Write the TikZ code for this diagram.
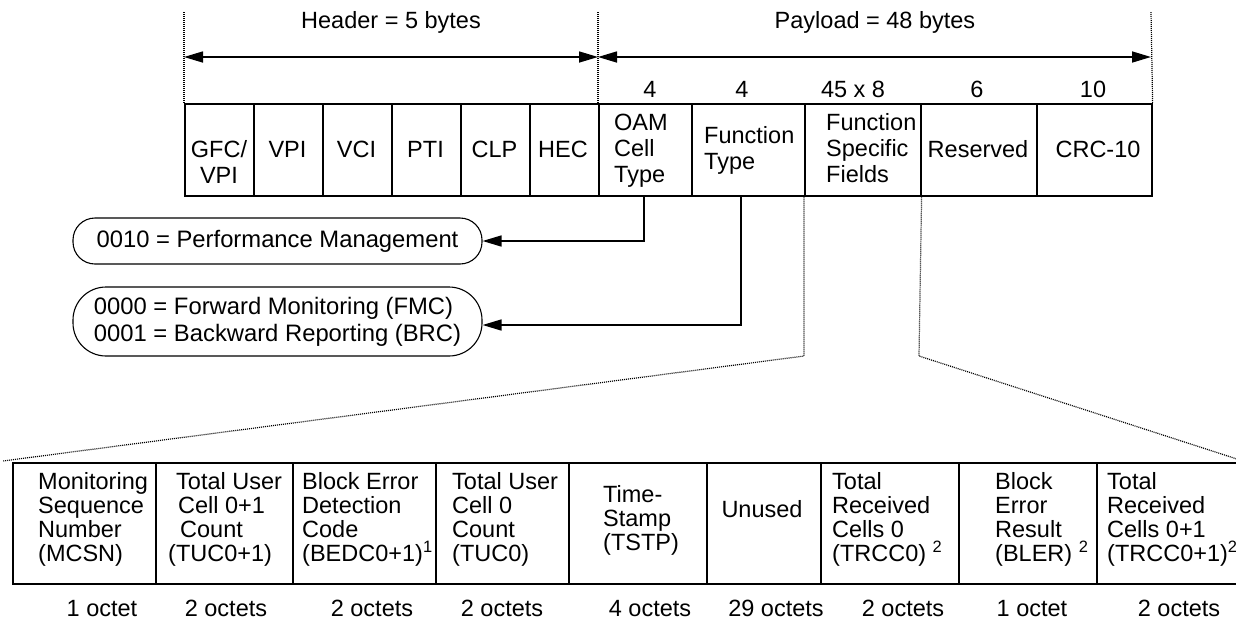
\documentclass[tikz,border=0pt]{standalone}
\usepackage{fontspec}
\setmainfont{Liberation Sans}
\usetikzlibrary{arrows.meta}
\newcommand\mlL[1]{\begin{tabular}[t]{@{}l@{}}#1\end{tabular}}
\newcommand\mlC[1]{\begin{tabular}[t]{@{}c@{}}#1\end{tabular}}
\newcommand\supmark[1]{\smash{\textsuperscript{#1}}}
\begin{document}
\begin{tikzpicture}[x=1pt,y=-1pt,
  box/.style={draw, line width=1.6pt, inner sep=0pt, anchor=north west},
  txt/.style={inner sep=0pt, font=\fontsize{23.5}{26}\selectfont},
  btxt/.style={inner sep=0pt, font=\fontsize{23.5}{24.3}\selectfont, anchor=base west},
  dots/.style={line width=1.2pt, dash pattern=on 1pt off 1pt},
  arr/.style={line width=1.6pt, -{Triangle[length=19pt,width=11pt]}},
  darr/.style={line width=1.6pt, {Triangle[length=19pt,width=11pt]}-{Triangle[length=19pt,width=11pt]}},
  oval/.style={draw, line width=1.1pt, inner sep=0pt, font=\fontsize{23.8}{27}\selectfont, align=left, minimum width=409pt}
]
\useasboundingbox (0,0) rectangle (1236,619);

% ---- top cell fields
\node[box, minimum width=69pt, minimum height=92pt] (gfc) at (184,103) {};
\node[box, minimum width=69pt, minimum height=92pt] (vpi) at (253,103) {};
\node[box, minimum width=69pt, minimum height=92pt] (vci) at (322,103) {};
\node[box, minimum width=69pt, minimum height=92pt] (pti) at (391,103) {};
\node[box, minimum width=69pt, minimum height=92pt] (clp) at (460,103) {};
\node[box, minimum width=69pt, minimum height=92pt] (hec) at (529,103) {};
\node[box, minimum width=93pt, minimum height=92pt] (oam) at (598,103) {};
\node[box, minimum width=113pt, minimum height=92pt] (ft) at (691,103) {};
\node[box, minimum width=116pt, minimum height=92pt] (fsf) at (804,103) {};
\node[box, minimum width=116pt, minimum height=92pt] (res) at (920,103) {};
\node[box, minimum width=115pt, minimum height=92pt] (crc) at (1036,103) {};

\node[txt, anchor=base] (tgfc) at (219,157) {\mlC{GFC/\\VPI}};
\node[txt, anchor=base] (tvpi) at (287.5,157) {VPI};
\node[txt, anchor=base] (tvci) at (356.5,157) {VCI};
\node[txt, anchor=base] (tpti) at (425.5,157) {PTI};
\node[txt, anchor=base] (tclp) at (494.5,157) {CLP};
\node[txt, anchor=base] (thec) at (563,157) {HEC};
\node[txt, anchor=base west] (toam) at (614,130) {\mlL{OAM\\Cell\\Type}};
\node[txt, anchor=base west] (tft) at (704,143) {\mlL{Function\\Type}};
\node[txt, anchor=base west] (tfsf) at (826,130) {\mlL{Function\\Specific\\Fields}};
\node[txt, anchor=base] (tres) at (978,157) {Reserved};
\node[txt, anchor=base] (tcrc) at (1098,157) {CRC-10};

% ---- size labels
\node[txt, anchor=base] (n1) at (650,97) {4};
\node[txt, anchor=base] (n2) at (742,97) {4};
\node[txt, anchor=base] (n3) at (853,97) {45 x 8};
\node[txt, anchor=base] (n4) at (977,97) {6};
\node[txt, anchor=base] (n5) at (1093,97) {10};

\node[txt, anchor=base] (hdr) at (391,28) {Header = 5 bytes};
\node[txt, anchor=base] (pay) at (875,28) {Payload = 48 bytes};

\coordinate (t1) at (184,12);
\coordinate (t2) at (598,12);
\coordinate (t3) at (1151,12);
\draw[dots] (gfc.north west) -- (t1);
\draw[dots] (oam.north west) -- (t2);
\draw[dots] (crc.north east) -- (t3);
\coordinate (a1) at (184,57);
\coordinate (a2) at (598,57);
\coordinate (a3) at (1151,57);
\draw[darr] (a1) -- (a2);
\draw[darr] (a2) -- (a3);

% ---- value ovals
\node[oval, minimum height=46pt, rounded corners=22pt] (pm) at (277.5,241) {0010 = Performance Management};
\node[oval, minimum height=69pt, rounded corners=33pt] (fb) at (277.5,321.5) {0000 = Forward Monitoring (FMC)\\0001 = Backward Reporting (BRC)};

\draw[arr] ([xshift=-1.5pt]oam.south) |- (pm.east);
\draw[arr] ([xshift=-7.5pt]ft.south) |- ([yshift=-3.5pt]fb.east);

% ---- projection lines
\coordinate (d1) at (804,356);
\coordinate (d2) at (919,356);
\coordinate (e1) at (3,461);
\coordinate (e2) at (1240,460);
\draw[dots] (fsf.south west) -- (d1) -- (e1);
\draw[dots] (fsf.south east) -- (d2) -- (e2);

% ---- bottom fields
\node[box, minimum width=143pt, minimum height=121pt] (m1) at (12,462) {};
\node[box, minimum width=137pt, minimum height=121pt] (m2) at (155,462) {};
\node[box, minimum width=143pt, minimum height=121pt] (m3) at (292,462) {};
\node[box, minimum width=133pt, minimum height=121pt] (m4) at (435,462) {};
\node[box, minimum width=138pt, minimum height=121pt] (m5) at (568,462) {};
\node[box, minimum width=114pt, minimum height=121pt] (m6) at (706,462) {};
\node[box, minimum width=138pt, minimum height=121pt] (m7) at (820,462) {};
\node[box, minimum width=138pt, minimum height=121pt] (m8) at (958,462) {};
\node[box, minimum width=170pt, minimum height=121pt] (m9) at (1096,462) {};

\node[btxt] (b1) at (38,489) {\mlL{Monitoring\\Sequence\\Number\\(MCSN)}};
\node[btxt] (b2) at (168,489) {\mlL{\hspace*{8pt}Total User\\\hspace*{10pt}Cell 0+1\\\hspace*{12pt}Count\\(TUC0+1)}};
\node[btxt] (b3) at (302,489) {\mlL{Block Error\\Detection\\Code\\(BEDC0+1)\supmark{1}}};
\node[btxt] (b4) at (452,489) {\mlL{Total User\\Cell 0\\Count\\(TUC0)}};
\node[btxt] (b5) at (603,502) {\mlL{Time-\\Stamp\\(TSTP)}};
\node[btxt, anchor=base] (b6) at (762,517) {Unused};
\node[btxt] (b7) at (832,489) {\mlL{Total\\Received\\Cells 0\\(TRCC0) \supmark{2}}};
\node[btxt] (b8) at (995,489) {\mlL{Block\\Error\\Result\\(BLER) \supmark{2}}};
\node[btxt] (b9) at (1107,489) {\mlL{Total\\Received\\Cells 0+1\\(TRCC0+1)\supmark{2}}};

\node[btxt, anchor=base] (o1) at (102,616) {1 octet};
\node[btxt, anchor=base] (o2) at (226,616) {2 octets};
\node[btxt, anchor=base] (o3) at (372,616) {2 octets};
\node[btxt, anchor=base] (o4) at (502,616) {2 octets};
\node[btxt, anchor=base] (o5) at (650,616) {4 octets};
\node[btxt, anchor=base] (o6) at (776,616) {29 octets};
\node[btxt, anchor=base] (o7) at (903,616) {2 octets};
\node[btxt, anchor=base] (o8) at (1032,616) {1 octet};
\node[btxt, anchor=base] (o9) at (1179,616) {2 octets};
\end{tikzpicture}
\end{document}
